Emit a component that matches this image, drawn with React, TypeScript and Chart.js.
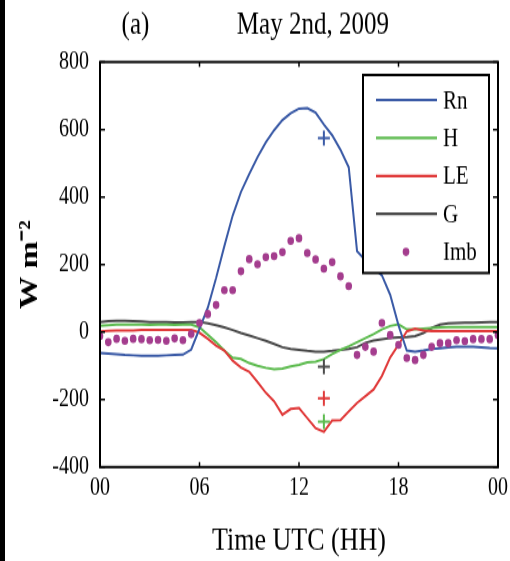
import React, { useEffect, useRef } from "react";
import { Chart, registerables } from "chart.js";

Chart.register(...registerables);

// Half-hourly surface energy balance, 2 May 2009 (UTC hours)
const HOURS = [
  0, 0.5, 1, 1.5, 2, 2.5, 3, 3.5, 4, 4.5, 5, 5.5,
  6, 6.5, 7, 7.5, 8, 8.5, 9, 9.5, 10, 10.5, 11, 11.5,
  12, 12.5, 13, 13.5, 14, 14.5, 15, 15.5, 16, 16.5, 17, 17.5,
  18, 18.5, 19, 19.5, 20, 20.5, 21, 21.5, 22, 22.5, 23, 23.5,
  24,
];

const RN = [
  -62, -64, -66, -68, -69, -70, -70, -70, -69, -68, -67, -52,
  10, 72, 160, 255, 345, 415, 468, 518, 562, 598, 628, 648,
  662, 663, 650, 615, 583, 540, 488, 240, 213, 190, 168, 110,
  20, -55, -58, -55, -50, -48, -45, -44, -44, -44, -45, -47,
  -48,
];

const H = [
  18, 20, 22, 22, 22, 22, 21, 22, 22, 21, 22, 22,
  14, -8, -30, -55, -76, -80, -92, -100, -106, -110, -108, -102,
  -97, -90, -88, -80, -65, -53, -42, -30, -18, -6, 8, 18,
  23, 8, 8, 10, 12, 14, 15, 15, 15, 15, 15, 15,
  15,
];

const LE = [
  2, 4, 5, 5, 5, 6, 6, 6, 6, 6, 6, 6,
  -2, -20, -40, -55, -85, -105, -118, -148, -180, -205, -245, -228,
  -225, -255, -285, -296, -262, -261, -235, -210, -190, -170, -130, -75,
  -38, 2, 10, 5, 3, 3, 3, 3, 3, 3, 3, 3,
  3,
];

const G = [
  30, 32, 33, 33, 32, 31, 30, 30, 30, 29, 29, 30,
  30, 26, 20, 14, 6, -3, -10, -18, -26, -35, -45, -50,
  -53, -56, -58, -58, -56, -53, -50, -45, -32, -25, -21, -18,
  -16, -15, -12, -3, 12, 22, 26, 27, 28, 28, 29, 30,
  30,
];

const IMB = [
  -12, -30, -20, -26, -20, -21, -24, -23, -26, -19, -24, -6,
  27, 53, 80, 124, 124, 180, 216, 201, 222, 225, 237, 270,
  278, 234, 215, 188, 207, 165, 136, -68, -44, -58, 27, -9,
  -38, -77, -83, -68, -44, -33, -33, -24, -27, -21, -21, -21,
  -9,
];

// Single reference values ("+" marks) at 13:30 UTC
const MARK_HOUR = 13.5;
const MARK_RN = 575;
const MARK_H = -266;
const MARK_LE = -196;
const MARK_G = -103;

const X_TICKS = [0, 6, 12, 18, 24];
const X_TICK_LABELS = ["00", "06", "12", "18", "00"];
const Y_MIN = -400;
const Y_MAX = 800;
const Y_STEP = 200;

const TITLE = "  (a)              May 2nd, 2009";
const X_TITLE = "Time UTC (HH)";
const Y_TITLE = "W m\u207B\u00B2";

const COLORS = {
  Rn: "#3a5aa6",
  H: "#5dbb4f",
  LE: "#e03a3a",
  G: "#4a4a4a",
  Imb: "#a43d8e",
};

const LEGEND = [
  { label: "Rn", color: COLORS.Rn, kind: "line" },
  { label: "H", color: COLORS.H, kind: "line" },
  { label: "LE", color: COLORS.LE, kind: "line" },
  { label: "G", color: COLORS.G, kind: "line" },
  { label: "Imb", color: COLORS.Imb, kind: "dot" },
];

const SERIF = "'Liberation Serif', 'Times New Roman', serif";

// canvas is drawn at a shorter pixel height and shown taller
const CANVAS_W = 510;
const CANVAS_H = 449;
const SHOWN_H = 561;

const pts = (ys: number[]) => HOURS.map((x, i) => ({ x, y: ys[i] }));

const frameAndLegend = {
  id: "frameAndLegend",
  afterDatasetsDraw(chart: any) {
    const { ctx, chartArea: a } = chart;
    const xs = chart.scales.x;
    const ys = chart.scales.y;
    ctx.save();
    ctx.strokeStyle = "#000";
    ctx.lineWidth = 2;
    ctx.strokeRect(a.left, a.top, a.right - a.left, a.bottom - a.top);

    // inward tick marks on all four sides
    ctx.lineWidth = 1.5;
    ctx.beginPath();
    for (const t of xs.ticks) {
      const px = xs.getPixelForValue(t.value);
      ctx.moveTo(px, a.bottom);
      ctx.lineTo(px, a.bottom - 4);
      ctx.moveTo(px, a.top);
      ctx.lineTo(px, a.top + 4);
    }
    for (const t of ys.ticks) {
      const py = ys.getPixelForValue(t.value);
      ctx.moveTo(a.left, py);
      ctx.lineTo(a.left + 5, py);
      ctx.moveTo(a.right, py);
      ctx.lineTo(a.right - 5, py);
    }
    ctx.stroke();

    // legend box in the upper right of the plot
    const bw = 126;
    const bh = 158.5;
    const bx = a.right - 9 - bw;
    const by = a.top + 10.4;
    ctx.fillStyle = "#fff";
    ctx.fillRect(bx, by, bw, bh);
    ctx.lineWidth = 2;
    ctx.strokeStyle = "#000";
    ctx.strokeRect(bx, by, bw, bh);
    ctx.font = `21px ${SERIF}`;
    ctx.textBaseline = "middle";
    ctx.textAlign = "left";
    LEGEND.forEach((item, i) => {
      const cy = by + 20 + i * 30.4;
      if (item.kind === "line") {
        ctx.strokeStyle = item.color;
        ctx.lineWidth = 2.2;
        ctx.beginPath();
        ctx.moveTo(bx + 13, cy);
        ctx.lineTo(bx + 74, cy);
        ctx.stroke();
      } else {
        ctx.fillStyle = item.color;
        ctx.beginPath();
        ctx.arc(bx + 43, cy, 3.3, 0, Math.PI * 2);
        ctx.fill();
      }
      ctx.fillStyle = "#000";
      ctx.fillText(item.label, bx + 80, cy + 1);
    });
    ctx.restore();
  },
};

export default function App() {
  const ref = useRef<HTMLCanvasElement>(null);

  useEffect(() => {
    const canvas = ref.current;
    if (!canvas) return;
    const line = (label: string, ys: number[], color: string) => ({
      type: "line" as const,
      label,
      data: pts(ys),
      borderColor: color,
      backgroundColor: color,
      borderWidth: 2,
      pointRadius: 0,
      tension: 0,
      fill: false,
    });
    const mark = (label: string, y: number, color: string) => ({
      type: "scatter" as const,
      label,
      data: [{ x: MARK_HOUR, y }],
      pointStyle: "cross",
      pointRadius: 6,
      borderColor: color,
      backgroundColor: color,
      borderWidth: 2,
    });

    const chart = new Chart(canvas, {
      type: "line",
      data: {
        datasets: [
          mark("Rn ref", MARK_RN, COLORS.Rn),
          mark("H ref", MARK_H, COLORS.H),
          mark("LE ref", MARK_LE, COLORS.LE),
          mark("G ref", MARK_G, COLORS.G),
          {
            type: "scatter",
            label: "Imb",
            data: pts(IMB),
            pointStyle: "circle",
            pointRadius: 3.3,
            backgroundColor: COLORS.Imb,
            borderWidth: 0,
          },
          line("Rn", RN, COLORS.Rn),
          line("LE", LE, COLORS.LE),
          line("H", H, COLORS.H),
          line("G", G, COLORS.G),
        ] as any,
      },
      options: {
        responsive: false,
        maintainAspectRatio: false,
        devicePixelRatio: 1,
        animation: false,
        events: [],
        layout: { padding: { left: 0, right: 12, top: 0, bottom: 0 } },
        plugins: {
          legend: { display: false },
          tooltip: { enabled: false },
          title: {
            display: true,
            text: TITLE,
            color: "#000",
            font: { family: SERIF, size: 25, weight: "normal" },
            padding: { top: 5.8, bottom: 13.8 },
          },
        },
        scales: {
          x: {
            type: "linear",
            min: 0,
            max: 24,
            grid: { display: false },
            border: { display: false },
            afterBuildTicks: (s: any) => {
              s.ticks = X_TICKS.map((value) => ({ value }));
            },
            afterFit: (s: any) => {
              s.height = CANVAS_H - 373.8;
            },
            ticks: {
              color: "#000",
              font: { family: SERIF, size: 20 },
              padding: -3,
              maxRotation: 0,
              autoSkip: false,
              callback: (v: any) => {
                const k = X_TICKS.indexOf(Number(v));
                return k >= 0 ? X_TICK_LABELS[k] : "";
              },
            },
            title: {
              display: true,
              text: X_TITLE,
              color: "#000",
              font: { family: SERIF, size: 26 },
              padding: { top: 0, bottom: 0 },
            },
          },
          y: {
            type: "linear",
            min: Y_MIN,
            max: Y_MAX,
            grid: { display: false },
            border: { display: false },
            afterFit: (s: any) => {
              s.width = 100;
            },
            ticks: {
              stepSize: Y_STEP,
              color: "#000",
              font: { family: SERIF, size: 20 },
              padding: 3,
            },
            title: {
              display: true,
              text: Y_TITLE,
              color: "#000",
              font: { family: SERIF, size: 26, weight: "bold" },
              padding: { top: 15, bottom: 0 },
            },
          },
        },
      },
      plugins: [frameAndLegend],
    } as any);

    return () => chart.destroy();
  }, []);

  return (
    <div
      style={{
        position: "absolute",
        left: 0,
        top: 0,
        width: CANVAS_W,
        height: SHOWN_H,
        background: "#fff",
        overflow: "hidden",
      }}
    >
      <canvas
        ref={ref}
        width={CANVAS_W}
        height={CANVAS_H}
        style={{
          position: "absolute",
          left: 0,
          top: 0,
          width: `${CANVAS_W}px`,
          height: `${SHOWN_H}px`,
        }}
      />
      <div
        style={{
          position: "absolute",
          left: 0,
          top: 0,
          width: 5,
          height: SHOWN_H,
          background: "#000",
        }}
      />
    </div>
  );
}
